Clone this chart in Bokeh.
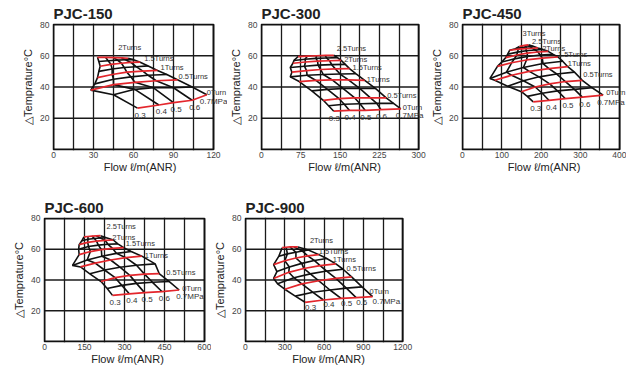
from bokeh.plotting import figure
from bokeh.models import Range1d, FixedTicker, ColumnDataSource, LabelSet
from bokeh.layouts import row, column
from bokeh.core.properties import value
from bokeh.embed import file_html
from bokeh.resources import INLINE

# ---------------- data ----------------
pressures = [0.3, 0.4, 0.5, 0.6, 0.7]
pressure_labels = ["0.3", "0.4", "0.5", "0.6", "0.7MPa"]

# rows = knob turns, columns = supply pressure 0.3..0.7 MPa
turns150 = [0, 0.25, 0.5, 0.75, 1, 1.25, 1.5, 1.75, 2]
flow150 = [
    [63, 79, 90, 104, 115],
    [45, 61, 75, 90, 104],
    [28, 45, 61, 77, 93],
    [31, 45, 58, 71, 85],
    [33, 44, 55, 67, 78],
    [34, 44, 53, 62, 71],
    [35, 43, 51, 58, 65],
    [34, 41, 48, 54, 60],
    [33, 39, 45, 51, 56],
]
dt150 = [
    [26.5, 28.5, 30, 31.5, 35],
    [35, 38.5, 39.5, 39.5, 40],
    [38, 41.5, 43, 44, 44.6],
    [42, 45, 46.5, 47.5, 48],
    [46, 48, 49.5, 50.2, 50.6],
    [50, 51.5, 52.5, 53, 53.5],
    [53.3, 54.5, 55.2, 55.7, 55.9],
    [56.3, 56.8, 57.2, 57.4, 57.5],
    [59, 59, 58.8, 58.6, 58.4],
]

turns300 = [0, 0.25, 0.5, 0.75, 1, 1.25, 1.5, 1.75, 2, 2.25, 2.5]
flow300 = [
    [138, 168, 198, 228, 266],
    [128, 158, 188, 220, 252],
    [118, 148, 178, 208, 238],
    [96, 126, 156, 188, 218],
    [72, 104, 135, 166, 197],
    [55, 87, 118, 150, 180],
    [58, 86, 113, 141, 168],
    [55, 82, 108, 134, 160],
    [60, 84, 107, 130, 152],
    [62, 83, 104, 124, 145],
    [70, 88, 105, 122, 138],
]
dt300 = [
    [24.5, 25, 25, 25.5, 26],
    [28, 29, 29.3, 29.5, 29.5],
    [31.5, 32.5, 33, 33, 33],
    [37.5, 38.5, 39, 39, 39],
    [43.5, 44.2, 44.5, 44.5, 44.3],
    [46.5, 47.5, 48, 48.3, 48.5],
    [49.5, 50.5, 51.2, 51.6, 51.8],
    [52.5, 53.3, 54, 54.3, 54.5],
    [55.2, 56, 56.5, 56.8, 57],
    [57, 57.8, 58.3, 58.6, 58.8],
    [59.5, 59.8, 60, 60.2, 60.3],
]

turns450 = [0, 0.25, 0.5, 0.75, 1, 1.25, 1.5, 1.75, 2, 2.25, 2.5, 2.75, 3]
flow450 = [
    [180, 220, 262, 305, 358],
    [165, 203, 242, 285, 330],
    [150, 185, 222, 262, 305],
    [115, 155, 195, 240, 285],
    [82, 125, 170, 220, 268],
    [70, 112, 155, 205, 255],
    [89, 125, 163, 203, 243],
    [100, 132, 165, 198, 230],
    [110, 138, 165, 192, 218],
    [115, 140, 162, 185, 205],
    [120, 142, 162, 178, 192],
    [135, 148, 162, 172, 180],
    [145, 152, 158, 163, 168],
]
dt450 = [
    [30.5, 31.5, 32.5, 33.5, 34.8],
    [34, 36, 37.5, 38.5, 39.5],
    [37, 40, 42, 43.5, 44.3],
    [40.5, 44, 46.5, 48.3, 49.5],
    [44.3, 47.5, 50, 51.8, 53],
    [45.5, 49.5, 52.5, 55, 56.5],
    [53.2, 55.5, 57.3, 58.5, 59.2],
    [56, 58, 59.5, 60.5, 61],
    [58.8, 60.5, 61.7, 62.4, 62.8],
    [61, 62.3, 63.2, 63.7, 64],
    [63.5, 64.2, 64.6, 64.8, 65],
    [64.5, 65.2, 65.6, 65.8, 66],
    [66, 66.3, 66.6, 66.8, 67],
]

turns600 = [0, 0.25, 0.5, 0.75, 1, 1.25, 1.5, 1.75, 2, 2.25, 2.5]
flow600 = [
    [255, 318, 375, 440, 505],
    [235, 290, 345, 405, 468],
    [212, 265, 320, 375, 430],
    [170, 225, 283, 345, 415],
    [135, 190, 248, 305, 365],
    [105, 160, 215, 270, 325],
    [130, 172, 213, 255, 297],
    [128, 165, 202, 238, 275],
    [130, 162, 195, 227, 258],
    [140, 163, 187, 210, 232],
    [148, 163, 178, 194, 210],
]
dt600 = [
    [30, 31, 31.8, 32.5, 33.5],
    [34.5, 36.5, 37.8, 38.5, 39],
    [39, 41.5, 43, 43.8, 44.2],
    [44, 46.5, 48.3, 49.6, 50.5],
    [48.5, 51, 53, 54.5, 55.5],
    [49.5, 53, 55.5, 57.3, 58.5],
    [56.5, 58.5, 59.8, 60.6, 61],
    [60, 61.8, 62.7, 63.2, 63.5],
    [63, 64.5, 65.3, 65.8, 66],
    [65.5, 66.5, 67, 67.3, 67.5],
    [68, 68.3, 68.5, 68.7, 68.8],
]

turns900 = [0, 0.25, 0.5, 0.75, 1, 1.25, 1.5, 1.75, 2]
flow900 = [
    [455, 595, 730, 845, 970],
    [380, 515, 645, 770, 890],
    [300, 430, 560, 690, 810],
    [245, 370, 495, 620, 745],
    [215, 330, 445, 570, 690],
    [240, 335, 430, 525, 620],
    [215, 300, 385, 475, 560],
    [255, 320, 385, 435, 480],
    [280, 310, 340, 370, 400],
]
dt900 = [
    [25.5, 27, 28, 28.5, 29.2],
    [29.5, 32, 33.5, 34.7, 35.5],
    [34, 37.5, 39.5, 41, 42],
    [37.5, 41.5, 44, 45.8, 47],
    [41, 45, 47.5, 49.3, 50.5],
    [45.5, 48.5, 50.8, 52.7, 54],
    [50, 52.5, 54.3, 55.7, 56.5],
    [55.5, 57, 58, 58.8, 59.5],
    [61, 61.3, 61.5, 61.5, 61.5],
]

y_ticks = [20, 40, 60, 80]
y_grid = [20, 40, 60]
y_max = 80

# ---------------- style ----------------
FONT = "Liberation Sans"
RED = "#e3262c"
INK = "#111111"
LABEL_COLOR = "#333333"
BOX_W, BOX_H = 160, 125  # plotting box in px

# L, R, T, B borders, E = extra room right of the box for labels
STYLE = {
    "PJC-150": dict(xmax=120, tstep=30, L=52, R=0, T=23, B=25, E=14,
                    turn_off=[(0, 2), (1, 3), (3, 3), (4, 4), (-10, 11)],
                    press_off=(-3, -7), mpa_dx=-4),
    "PJC-300": dict(xmax=300, tstep=75, L=30, R=0, T=23, B=25, E=10,
                    turn_off=[(2, 1), (1, 2), (2, 1), (3, 1), (3, 1), (3, 7)],
                    press_off=(-5, -7), mpa_dx=0),
    "PJC-450": dict(xmax=400, tstep=100, L=30, R=0, T=23, B=25, E=7,
                    turn_off=[(3, 3), (1, 6), (0, 3), (0, 3), (-6, 3), (-6, 6), (-6, 11)],
                    press_off=(-3, -7), mpa_dx=-3),
    "PJC-600": dict(xmax=600, tstep=150, L=43, R=0, T=42, B=23, E=7,
                    turn_off=[(3, 1), (7, 1), (3, 1), (2, 4), (-1, 3), (6, 9)],
                    press_off=(-3, -7), mpa_dx=0),
    "PJC-900": dict(xmax=1200, tstep=300, L=30, R=2, T=42, B=23, E=10,
                    turn_off=[(-3, 5), (-5, 8), (-3, 4), (0, 3), (12, 6)],
                    press_off=(0, -5), mpa_dx=0),
}


def turn_text(t):
    if t == 0:
        return "0Turn"
    return f"{t:g}Turns"


def panel(name, turns, flow, dt):
    st = STYLE[name]
    L, R, T, B, E = st["L"], st["R"], st["T"], st["B"], st["E"]
    xmax = st["xmax"]
    upx = xmax / BOX_W        # data units per pixel (x)
    vpx = y_max / BOX_H       # data units per pixel (y)
    fw = 1 + BOX_W + E
    fh = 1 + BOX_H + 1
    p = figure(width=L + fw + R, height=T + fh + B,
               x_range=Range1d(-upx, xmax + E * upx),
               y_range=Range1d(-vpx, y_max + vpx),
               output_backend="svg", toolbar_location=None,
               min_border_left=L, min_border_right=R,
               min_border_top=T, min_border_bottom=B,
               title=name, background_fill_color="white",
               border_fill_color="white")
    p.title.text_font = FONT
    p.title.text_font_size = "15px"
    p.title.text_font_style = "bold"
    p.title.text_color = "#222222"
    p.title.align = "left"
    p.title.offset = 1
    p.title.standoff = 3
    p.outline_line_color = None

    xt = [st["tstep"] * i for i in range(5)]
    xg = [xmax / 8 * i for i in range(1, 8)]
    p.xaxis.ticker = FixedTicker(ticks=xt)
    p.yaxis.ticker = FixedTicker(ticks=y_ticks)
    p.xgrid.ticker = FixedTicker(ticks=xg)
    p.xgrid.grid_line_color = "#1a1a1a"
    p.xgrid.grid_line_width = 1.3
    p.ygrid.grid_line_color = None

    p.xaxis.axis_label = "Flow ℓ/m(ANR)"
    p.yaxis.axis_label = "△Temprature°C"
    for ax in (p.xaxis, p.yaxis):
        ax.axis_line_color = None
        ax.major_tick_line_color = None
        ax.minor_tick_line_color = None
        ax.major_tick_out = 0
        ax.major_tick_in = 0
        ax.minor_tick_out = 0
        ax.minor_tick_in = 0
        ax.major_label_text_font = FONT
        ax.major_label_text_font_size = "8.5px"
        ax.major_label_text_color = "#444444"
        ax.axis_label_text_font = FONT
        ax.axis_label_text_font_size = "11px"
        ax.axis_label_text_font_style = "normal"
        ax.axis_label_text_color = "#222222"
    p.xaxis.major_label_standoff = 1
    p.xaxis.axis_label_standoff = 0
    p.yaxis.major_label_standoff = 3
    p.yaxis.axis_label_standoff = 3

    # horizontal grid lines limited to the plotting box
    p.segment(x0=[0] * len(y_grid), x1=[xmax] * len(y_grid), y0=y_grid, y1=y_grid,
              line_color="#1a1a1a", line_width=1.3)

    n = len(turns)
    # pressure curves (black)
    pxs = [[flow[i][j] for i in range(n)] for j in range(len(pressures))]
    pys = [[dt[i][j] for i in range(n)] for j in range(len(pressures))]
    p.multi_line(pxs, pys, line_color=INK, line_width=1.6)
    # intermediate turn curves (black)
    bx = [flow[i] for i in range(n) if i % 2 == 1]
    by = [dt[i] for i in range(n) if i % 2 == 1]
    p.multi_line(bx, by, line_color=INK, line_width=1.6)
    # half-turn curves (red)
    rx = [flow[i] for i in range(n) if i % 2 == 0]
    ry = [dt[i] for i in range(n) if i % 2 == 0]
    p.multi_line(rx, ry, line_color=RED, line_width=1.7)

    # plotting box
    p.quad(left=[0], right=[xmax], bottom=[0], top=[y_max], fill_color=None,
           line_color=INK, line_width=2)

    # turn labels at the 0.7 MPa end of each red curve
    red_idx = [i for i in range(n) if i % 2 == 0]
    src = ColumnDataSource(dict(
        x=[flow[i][-1] for i in red_idx],
        y=[dt[i][-1] for i in red_idx],
        text=[turn_text(turns[i]) for i in red_idx],
        xo=[o[0] for o in st["turn_off"]],
        yo=[o[1] for o in st["turn_off"]],
    ))
    p.add_layout(LabelSet(x="x", y="y", text="text", x_offset="xo", y_offset="yo",
                          source=src, text_font=value(FONT), text_font_size="7.5px",
                          text_color=LABEL_COLOR, text_baseline="middle", text_align="left"))
    # pressure labels below the 0-turn curve
    dx, dy = st["press_off"]
    psrc = ColumnDataSource(dict(
        x=flow[0], y=dt[0], text=pressure_labels,
        xo=[dx, dx, dx, dx, dx + st["mpa_dx"]], yo=[dy] * 5))
    p.add_layout(LabelSet(x="x", y="y", text="text", x_offset="xo", y_offset="yo",
                          source=psrc, text_font=value(FONT), text_font_size="8px",
                          text_color=LABEL_COLOR, text_baseline="middle", text_align="left"))
    return p


f1 = panel("PJC-150", turns150, flow150, dt150)
f2 = panel("PJC-300", turns300, flow300, dt300)
f3 = panel("PJC-450", turns450, flow450, dt450)
f4 = panel("PJC-600", turns600, flow600, dt600)
f5 = panel("PJC-900", turns900, flow900, dt900)

layout = column(row(f1, f2, f3, spacing=0), row(f4, f5, spacing=0), spacing=0)

open("out.html", "w").write(file_html(layout, INLINE))
